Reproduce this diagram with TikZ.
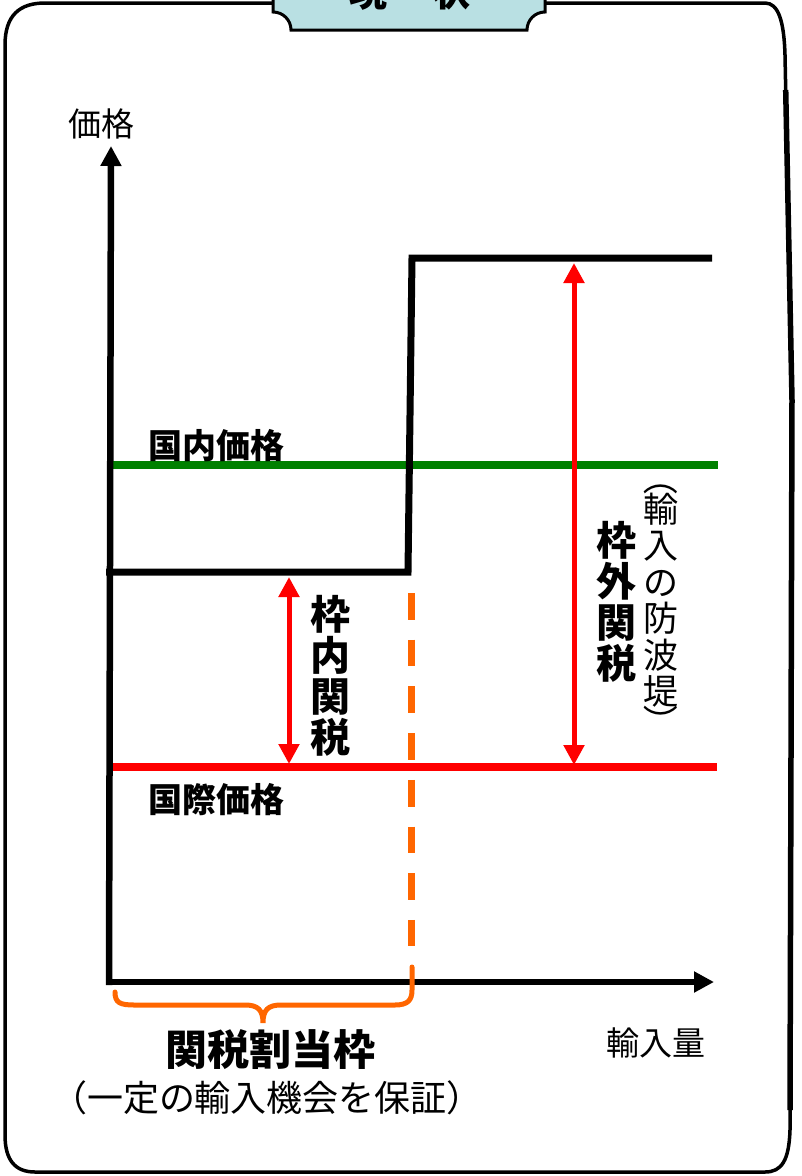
\documentclass[tikz,border=0pt]{standalone}
\usepackage{fontspec}
\newfontfamily\jp{Noto Sans CJK JP}
\usetikzlibrary{arrows.meta}
\definecolor{tabblue}{RGB}{185,224,227}
\definecolor{dgreen}{RGB}{0,128,0}
\definecolor{qorange}{RGB}{255,102,0}
\begin{document}
\begin{tikzpicture}[x=1pt,y=-1pt,
  lbl/.style={font=\jp\fontsize{33}{36}\selectfont, inner sep=0pt},
  blbl/.style={font=\jp\bfseries\fontsize{34}{36}\selectfont, inner sep=0pt},
  vbig/.style={font=\jp\bfseries\fontsize{40}{41}\selectfont, inner sep=0pt, align=center},
  vsmall/.style={font=\jp\fontsize{35}{36.5}\selectfont, inner sep=0pt, align=center},
  vparen/.style={font=\jp\fontsize{35}{36.5}\selectfont, inner sep=0pt, rotate=-90},
  frame/.style={line width=3.5pt, line join=round},
  axis/.style={line width=6.5pt, -{Triangle[width=20pt,length=20pt]}},
  stepline/.style={line width=7pt},
  priceline/.style={line width=8pt},
  tariff/.style={red, line width=5pt, {Triangle[width=20pt,length=20pt]}-{Triangle[width=20pt,length=20pt]}},
  quota/.style={qorange, line width=6.5pt},
]
\useasboundingbox (0,0) rectangle (802,1176);
% outer frame
\draw[frame] (5,45) .. controls (5,15) and (20,3) .. (45,3) -- (545,3)
  -- (765,3) .. controls (778,3) and (784,20) .. (785,55) -- (792,400)
  -- (790,1130) .. controls (789,1160) and (782,1172) .. (765,1172)
  -- (35,1172) .. controls (15,1172) and (5,1160) .. (5,1135) -- cycle;
\draw[line width=5.5pt] (785.7,90) -- (792,400) -- (790,1110);
% title tab
\draw[line width=3pt, fill=tabblue] (273,-10) -- (273,12) .. controls (283,12) and (291,20) .. (291,30)
  -- (527,30) .. controls (527,20) and (535,12) .. (545,12) -- (545,-10) -- cycle;
\node[font=\jp\bfseries\fontsize{38}{40}\selectfont, anchor=base, inner sep=0pt] (title) at (410,6) {現\hspace{1.2em}状};
% coordinates
\coordinate (yb) at (109,985);
\coordinate (yt) at (111,146);
\coordinate (xl) at (106,982);
\coordinate (xr) at (714,982);
\coordinate (s0) at (106,572);
\coordinate (s1) at (408,572);
\coordinate (s2) at (412,258);
\coordinate (s3) at (712,258);
\coordinate (gl) at (113,465);
\coordinate (gr) at (718,465);
\coordinate (rl) at (111,767);
\coordinate (rr) at (717,767);
\coordinate (a1t) at (289,577);
\coordinate (a1b) at (289,764);
\coordinate (a2t) at (574,263);
\coordinate (a2b) at (574,765);
\coordinate (dt) at (411.5,593);
\coordinate (db) at (411.5,946);
% price lines
\draw[priceline, dgreen] (gl) -- (gr);
\draw[priceline, red] (rl) -- (rr);
% supply step
\draw[stepline] (s0) -- (s1) -- (s2) -- (s3);
% dashed quota line
\draw[quota, dash pattern=on 26.7pt off 20pt] (dt) -- (db);
% axes
\draw[axis] (yb) -- (yt);
\draw[axis] (xl) -- (xr);
% tariff arrows
\draw[tariff] (a1t) -- (a1b);
\draw[tariff] (a2t) -- (a2b);
% brace
\draw[qorange, line width=5pt, line cap=round] (115,992) .. controls (115,1003) and (120,1005) .. (135,1005) -- (245,1005)
  .. controls (258,1005) and (263,1010) .. (263,1023) .. controls (263,1010) and (268,1005) .. (281,1005)
  -- (395,1005) .. controls (408,1005) and (412,1000) .. (412,990) -- (412,967);
% labels
\node[lbl] (price) at (101,124) {価格};
\node[lbl] (qty) at (656,1043) {輸入量};
\node[blbl] (dom) at (216,446) {国内価格};
\node[blbl] (intl) at (216,800) {国際価格};
\node[vbig] (inq) at (330,676) {枠\\内\\関\\税};
\node[vbig] (outq) at (616,602) {枠\\外\\関\\税};
\node[vsmall] (wave) at (661,600) {輸\\入\\の\\防\\波\\堤};
\node[vparen] (wpl) at (661,478) {（};
\node[vparen] (wpr) at (661,722) {）};
\node[font=\jp\bfseries\fontsize{42}{44}\selectfont, inner sep=0pt] (trq) at (270,1050) {関税割当枠};
\node[font=\jp\fontsize{36}{38}\selectfont, inner sep=0pt] (trqnote) at (267,1098) {（一定の輸入機会を保証）};
\end{tikzpicture}
\end{document}
